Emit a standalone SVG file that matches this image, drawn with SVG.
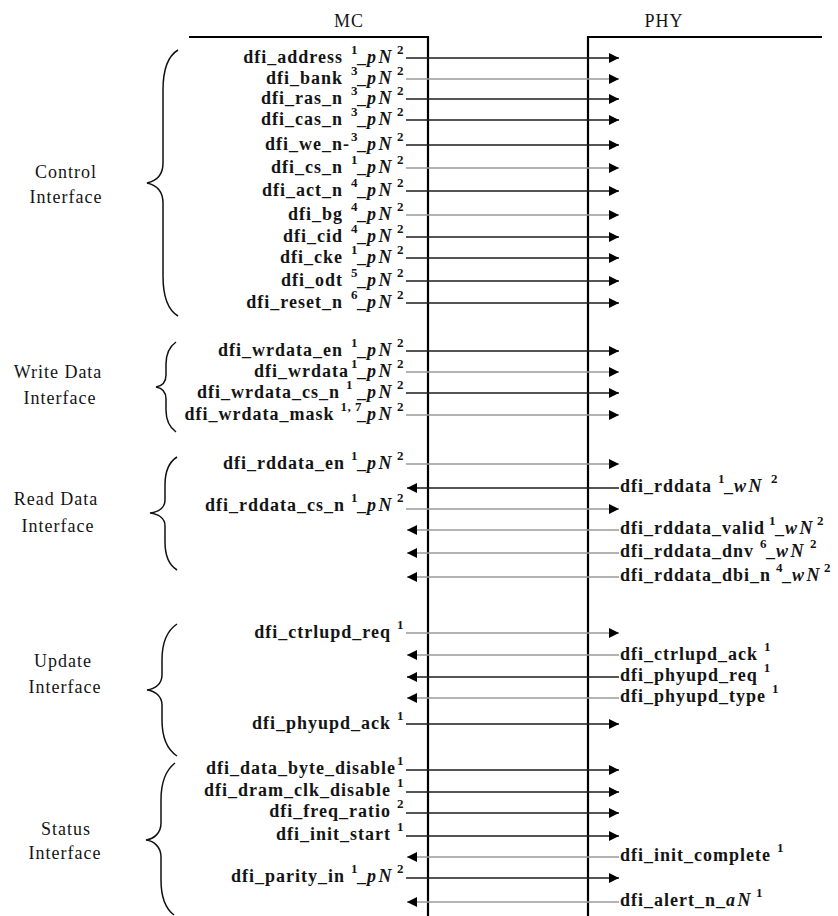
<svg xmlns="http://www.w3.org/2000/svg" width="838" height="916" viewBox="0 0 838 916">
<style>
.t{font-family:"Liberation Serif","Times New Roman",serif;font-size:18px;font-weight:bold;letter-spacing:1px;fill:#141414}
.h{font-family:"Liberation Serif","Times New Roman",serif;font-size:18px;letter-spacing:1px;fill:#141414}
.s{font-size:13px;letter-spacing:0.5px}
.i{font-style:italic;letter-spacing:2.5px}
.box{fill:none;stroke:#000;stroke-width:2.2}
.br{fill:none;stroke:#111;stroke-width:1.5}
.k{stroke:#1c1c1c;stroke-width:1.3;fill:none}
.g{stroke:#9a9a9a;stroke-width:1.6;fill:none}
.r{marker-end:url(#ah)}
</style>
<defs>
<marker id="ah" markerUnits="userSpaceOnUse" markerWidth="11" markerHeight="11" refX="10" refY="5" orient="auto">
<path d="M0,0 L10,5 L0,10 Z" fill="#000"/>
</marker>
</defs>
<rect x="0" y="0" width="838" height="916" fill="#fff"/>

<g id="mc">
<path class="box" d="M189,37 H428 V916"/>
<text class="h" x="349" y="27" text-anchor="middle">MC</text>
</g>
<g id="phy">
<path class="box" d="M822,37 H588 V916"/>
<text class="h" x="664" y="27" text-anchor="middle">PHY</text>
</g>

<g id="control-interface">
<path class="br" d="M178,50 C168,56 163,70 163,90 L163,163 C163,175 156,181 147,183 C156,185 163,191 163,203 L163,276 C163,296 168,310 178,316"/>
<text class="h" x="66" y="178" text-anchor="middle">Control</text>
<text class="h" x="66" y="203" text-anchor="middle">Interface</text>
</g>
<g id="write-data-interface">
<path class="br" d="M176,342 C169,347 166,354 166,364 L166,375 C166,382 162,386 156,387 C162,388 166,392 166,399 L166,410 C166,420 169,427 176,432"/>
<text class="h" x="58" y="378" text-anchor="middle">Write Data</text>
<text class="h" x="60" y="404" text-anchor="middle">Interface</text>
</g>
<g id="read-data-interface">
<path class="br" d="M177,457 C169,462 165,472 165,485 L165,500 C165,508 158,512 150,513 C158,514 165,518 165,526 L165,542 C165,555 169,565 177,570"/>
<text class="h" x="56" y="505" text-anchor="middle">Read Data</text>
<text class="h" x="58" y="532" text-anchor="middle">Interface</text>
</g>
<g id="update-interface">
<path class="br" d="M177,624 C168,630 162,642 162,660 L162,675 C162,684 155,689 147,690 C155,691 162,696 162,705 L162,720 C162,738 168,750 177,756"/>
<text class="h" x="63" y="667" text-anchor="middle">Update</text>
<text class="h" x="65" y="693" text-anchor="middle">Interface</text>
</g>
<g id="status-interface">
<path class="br" d="M175,763 C166,770 161,783 161,800 L161,823 C161,833 154,839 146,840 C154,841 161,847 161,857 L161,880 C161,897 166,909 174,915"/>
<text class="h" x="66" y="835" text-anchor="middle">Status</text>
<text class="h" x="65" y="859" text-anchor="middle">Interface</text>
</g>

<g id="connectors">
<line class="k r" x1="406" y1="58" x2="619" y2="58"/>
<line class="g r" x1="406" y1="79" x2="619" y2="79"/>
<line class="k r" x1="406" y1="99" x2="619" y2="99"/>
<line class="k r" x1="406" y1="120" x2="619" y2="120"/>
<line class="k r" x1="406" y1="145" x2="619" y2="145"/>
<line class="g r" x1="406" y1="168" x2="619" y2="168"/>
<line class="k r" x1="406" y1="191" x2="619" y2="191"/>
<line class="g r" x1="406" y1="215" x2="619" y2="215"/>
<line class="k r" x1="406" y1="237" x2="619" y2="237"/>
<line class="k r" x1="406" y1="258" x2="619" y2="258"/>
<line class="k r" x1="406" y1="281" x2="619" y2="281"/>
<line class="k r" x1="406" y1="303" x2="619" y2="303"/>

<line class="k r" x1="406" y1="351" x2="619" y2="351"/>
<line class="g r" x1="406" y1="372" x2="619" y2="372"/>
<line class="k r" x1="406" y1="393" x2="619" y2="393"/>
<line class="g r" x1="406" y1="415" x2="619" y2="415"/>

<line class="g r" x1="406" y1="464" x2="619" y2="464"/>
<line class="k r" x1="619" y1="488" x2="407" y2="488"/>
<line class="g r" x1="406" y1="509" x2="619" y2="509"/>
<line class="g r" x1="619" y1="530" x2="407" y2="530"/>
<line class="g r" x1="619" y1="553" x2="407" y2="553"/>
<line class="g r" x1="619" y1="577" x2="407" y2="577"/>

<line class="g r" x1="406" y1="633" x2="619" y2="633"/>
<line class="g r" x1="619" y1="655" x2="407" y2="655"/>
<line class="k r" x1="619" y1="677" x2="407" y2="677"/>
<line class="g r" x1="619" y1="698" x2="407" y2="698"/>
<line class="k r" x1="406" y1="724" x2="619" y2="724"/>

<line class="k r" x1="406" y1="770" x2="619" y2="770"/>
<line class="k r" x1="406" y1="792" x2="619" y2="792"/>
<line class="k r" x1="406" y1="813" x2="619" y2="813"/>
<line class="k r" x1="406" y1="836" x2="619" y2="836"/>
<line class="g r" x1="619" y1="857" x2="407" y2="857"/>
<line class="k r" x1="406" y1="878" x2="619" y2="878"/>
<line class="g r" x1="619" y1="902" x2="407" y2="902"/>
</g>

<g id="sig-dfi_address"><text class="t" x="404" y="63" text-anchor="end">dfi_address<tspan class="s" dx="8" dy="-9">1</tspan><tspan dx="-1" dy="9">_</tspan><tspan class="i">pN</tspan><tspan class="s" dx="3" dy="-9">2</tspan></text></g>
<g id="sig-dfi_bank"><text class="t" x="404" y="84" text-anchor="end">dfi_bank<tspan class="s" dx="8" dy="-9">3</tspan><tspan dx="-1" dy="9">_</tspan><tspan class="i">pN</tspan><tspan class="s" dx="3" dy="-9">2</tspan></text></g>
<g id="sig-dfi_ras_n"><text class="t" x="404" y="104" text-anchor="end">dfi_ras_n<tspan class="s" dx="8" dy="-9">3</tspan><tspan dx="-1" dy="9">_</tspan><tspan class="i">pN</tspan><tspan class="s" dx="3" dy="-9">2</tspan></text></g>
<g id="sig-dfi_cas_n"><text class="t" x="404" y="125" text-anchor="end">dfi_cas_n<tspan class="s" dx="8" dy="-9">3</tspan><tspan dx="-1" dy="9">_</tspan><tspan class="i">pN</tspan><tspan class="s" dx="3" dy="-9">2</tspan></text></g>
<g id="sig-dfi_we_n"><text class="t" x="404" y="150" text-anchor="end">dfi_we_n-<tspan class="s" dx="1" dy="-9">3</tspan><tspan dx="-1" dy="9">_</tspan><tspan class="i">pN</tspan><tspan class="s" dx="3" dy="-9">2</tspan></text></g>
<g id="sig-dfi_cs_n"><text class="t" x="404" y="173" text-anchor="end">dfi_cs_n<tspan class="s" dx="8" dy="-9">1</tspan><tspan dx="-1" dy="9">_</tspan><tspan class="i">pN</tspan><tspan class="s" dx="3" dy="-9">2</tspan></text></g>
<g id="sig-dfi_act_n"><text class="t" x="404" y="196" text-anchor="end">dfi_act_n<tspan class="s" dx="8" dy="-9">4</tspan><tspan dx="-1" dy="9">_</tspan><tspan class="i">pN</tspan><tspan class="s" dx="3" dy="-9">2</tspan></text></g>
<g id="sig-dfi_bg"><text class="t" x="404" y="220" text-anchor="end">dfi_bg<tspan class="s" dx="8" dy="-9">4</tspan><tspan dx="-1" dy="9">_</tspan><tspan class="i">pN</tspan><tspan class="s" dx="3" dy="-9">2</tspan></text></g>
<g id="sig-dfi_cid"><text class="t" x="404" y="242" text-anchor="end">dfi_cid<tspan class="s" dx="8" dy="-9">4</tspan><tspan dx="-1" dy="9">_</tspan><tspan class="i">pN</tspan><tspan class="s" dx="3" dy="-9">2</tspan></text></g>
<g id="sig-dfi_cke"><text class="t" x="404" y="263" text-anchor="end">dfi_cke<tspan class="s" dx="8" dy="-9">1</tspan><tspan dx="-1" dy="9">_</tspan><tspan class="i">pN</tspan><tspan class="s" dx="3" dy="-9">2</tspan></text></g>
<g id="sig-dfi_odt"><text class="t" x="404" y="286" text-anchor="end">dfi_odt<tspan class="s" dx="8" dy="-9">5</tspan><tspan dx="-1" dy="9">_</tspan><tspan class="i">pN</tspan><tspan class="s" dx="3" dy="-9">2</tspan></text></g>
<g id="sig-dfi_reset_n"><text class="t" x="404" y="308" text-anchor="end">dfi_reset_n<tspan class="s" dx="8" dy="-9">6</tspan><tspan dx="-1" dy="9">_</tspan><tspan class="i">pN</tspan><tspan class="s" dx="3" dy="-9">2</tspan></text></g>

<g id="sig-dfi_wrdata_en"><text class="t" x="404" y="356" text-anchor="end">dfi_wrdata_en<tspan class="s" dx="8" dy="-9">1</tspan><tspan dx="-1" dy="9">_</tspan><tspan class="i">pN</tspan><tspan class="s" dx="3" dy="-9">2</tspan></text></g>
<g id="sig-dfi_wrdata"><text class="t" x="404" y="377" text-anchor="end">dfi_wrdata<tspan class="s" dx="2" dy="-9">1</tspan><tspan dx="-1" dy="9">_</tspan><tspan class="i">pN</tspan><tspan class="s" dx="3" dy="-9">2</tspan></text></g>
<g id="sig-dfi_wrdata_cs_n"><text class="t" x="404" y="398" text-anchor="end">dfi_wrdata_cs_n<tspan class="s" dx="6" dy="-9">1</tspan><tspan dx="4" dy="9">_</tspan><tspan class="i">pN</tspan><tspan class="s" dx="3" dy="-9">2</tspan></text></g>
<g id="sig-dfi_wrdata_mask"><text class="t" x="404" y="420" text-anchor="end">dfi_wrdata_mask<tspan class="s" dx="6" dy="-9">1, 7</tspan><tspan dx="-5" dy="9">_</tspan><tspan class="i">pN</tspan><tspan class="s" dx="3" dy="-9">2</tspan></text></g>

<g id="sig-dfi_rddata_en"><text class="t" x="404" y="469" text-anchor="end">dfi_rddata_en<tspan class="s" dx="6" dy="-9">1</tspan><tspan dx="-1" dy="9">_</tspan><tspan class="i">pN</tspan><tspan class="s" dx="3" dy="-9">2</tspan></text></g>
<g id="sig-dfi_rddata"><text class="t" x="620" y="492">dfi_rddata<tspan class="s" dx="6" dy="-9">1</tspan><tspan dx="-1" dy="9">_</tspan><tspan class="i">wN</tspan><tspan class="s" dx="7" dy="-9">2</tspan></text></g>
<g id="sig-dfi_rddata_cs_n"><text class="t" x="404" y="511" text-anchor="end">dfi_rddata_cs_n<tspan class="s" dx="6" dy="-9">1</tspan><tspan dx="-1" dy="9">_</tspan><tspan class="i">pN</tspan><tspan class="s" dx="3" dy="-9">2</tspan></text></g>
<g id="sig-dfi_rddata_valid"><text class="t" x="620" y="534">dfi_rddata_valid<tspan class="s" dx="4" dy="-9">1</tspan><tspan dx="-1" dy="9">_</tspan><tspan class="i">wN</tspan><tspan class="s" dx="2" dy="-9">2</tspan></text></g>
<g id="sig-dfi_rddata_dnv"><text class="t" x="620" y="557">dfi_rddata_dnv<tspan class="s" dx="6" dy="-9">6</tspan><tspan dx="-1" dy="9">_</tspan><tspan class="i">wN</tspan><tspan class="s" dx="4" dy="-9">2</tspan></text></g>
<g id="sig-dfi_rddata_dbi_n"><text class="t" x="620" y="581">dfi_rddata_dbi_n<tspan class="s" dx="5" dy="-9">4</tspan><tspan dx="-1" dy="9">_</tspan><tspan class="i">wN</tspan><tspan class="s" dx="2" dy="-9">2</tspan></text></g>

<g id="sig-dfi_ctrlupd_req"><text class="t" x="404" y="638" text-anchor="end">dfi_ctrlupd_req<tspan class="s" dx="6" dy="-9">1</tspan></text></g>
<g id="sig-dfi_ctrlupd_ack"><text class="t" x="620" y="660">dfi_ctrlupd_ack<tspan class="s" dx="6" dy="-9">1</tspan></text></g>
<g id="sig-dfi_phyupd_req"><text class="t" x="620" y="681">dfi_phyupd_req<tspan class="s" dx="6" dy="-9">1</tspan></text></g>
<g id="sig-dfi_phyupd_type"><text class="t" x="620" y="702">dfi_phyupd_type<tspan class="s" dx="6" dy="-9">1</tspan></text></g>
<g id="sig-dfi_phyupd_ack"><text class="t" x="404" y="729" text-anchor="end">dfi_phyupd_ack<tspan class="s" dx="6" dy="-9">1</tspan></text></g>

<g id="sig-dfi_data_byte_disable"><text class="t" x="404" y="774" text-anchor="end">dfi_data_byte_disable<tspan class="s" dx="1" dy="-9">1</tspan></text></g>
<g id="sig-dfi_dram_clk_disable"><text class="t" x="404" y="796" text-anchor="end">dfi_dram_clk_disable<tspan class="s" dx="6" dy="-9">1</tspan></text></g>
<g id="sig-dfi_freq_ratio"><text class="t" x="404" y="817" text-anchor="end">dfi_freq_ratio<tspan class="s" dx="6" dy="-9">2</tspan></text></g>
<g id="sig-dfi_init_start"><text class="t" x="404" y="840" text-anchor="end">dfi_init_start<tspan class="s" dx="6" dy="-9">1</tspan></text></g>
<g id="sig-dfi_init_complete"><text class="t" x="620" y="861">dfi_init_complete<tspan class="s" dx="6" dy="-9">1</tspan></text></g>
<g id="sig-dfi_parity_in"><text class="t" x="404" y="882" text-anchor="end">dfi_parity_in<tspan class="s" dx="6" dy="-9">1</tspan><tspan dx="-1" dy="9">_</tspan><tspan class="i">pN</tspan><tspan class="s" dx="3" dy="-9">2</tspan></text></g>
<g id="sig-dfi_alert_n"><text class="t" x="620" y="906">dfi_alert_n_<tspan class="i">aN</tspan><tspan class="s" dx="3" dy="-9">1</tspan></text></g>
</svg>
